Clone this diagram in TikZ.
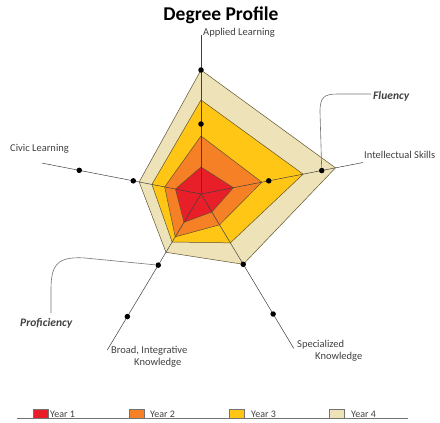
\documentclass[tikz,border=0pt]{standalone}
\usepackage{fontspec}
\setmainfont{Carlito}
\usetikzlibrary{calc}

\definecolor{yearone}{RGB}{232,30,40}
\definecolor{yeartwo}{RGB}{246,128,38}
\definecolor{yearthree}{RGB}{255,198,22}
\definecolor{yearfour}{RGB}{238,226,184}
\definecolor{edgecol}{RGB}{95,82,45}
\definecolor{txtcol}{RGB}{64,64,64}

\tikzset{
  area/.style={draw=edgecol, line width=0.5pt, line join=miter},
  axis/.style={draw=black!75, line width=0.5pt},
  dot/.style={circle, fill=black, inner sep=0pt, minimum size=5.5pt},
  lbl/.style={text=txtcol, font=\fontsize{10.5}{12.5}\selectfont, inner sep=0pt},
  callout/.style={draw=black!55, line width=0.6pt},
  keybox/.style={draw=black!55, line width=0.4pt, minimum width=15pt, minimum height=9pt, inner sep=0pt, anchor=south west}
}

\begin{document}
\begin{tikzpicture}[x=1pt, y=1pt]
  \useasboundingbox (0,0) rectangle (440,-423);

  \node[font=\fontsize{19.5}{22}\selectfont\bfseries] (title) at (221,-15) {Degree Profile};

  \begin{scope}[shift={(201,-194)}]
    \coordinate (o) at (0,0);

    % year 4 .. year 1
    \draw[area, fill=yearfour] (90:124pt) -- (11:137pt) -- (-59:82pt) -- (-121:68pt) -- (169:63pt) -- cycle;
    \draw[area, fill=yearthree] (90:94pt) -- (11:104pt) -- (-59:57pt) -- (-121:56pt) -- (169:50pt) -- cycle;
    \draw[area, fill=yeartwo] (90:58pt) -- (11:62pt) -- (-59:36pt) -- (-121:50pt) -- (169:37pt) -- cycle;
    \draw[area, fill=yearone] (90:27pt) -- (11:33pt) -- (-59:21pt) -- (-121:33pt) -- (169:26pt) -- cycle;

    % axis ends
    \coordinate (ea) at (90:159pt);
    \coordinate (ei) at (11:165pt);
    \coordinate (es) at (-59:180pt);
    \coordinate (eb) at (-121:182pt);
    \coordinate (ec) at (169:162pt);

    \draw[axis] (o) -- (ea);
    \draw[axis] (o) -- (ei);
    \draw[axis] (o) -- (es);
    \draw[axis] (o) -- (eb);
    \draw[axis] (o) -- (ec);

    \node[dot] (da1) at (90:70pt) {};
    \node[dot] (da2) at (90:124pt) {};
    \node[dot] (di1) at (11:69pt) {};
    \node[dot] (di2) at (11:123pt) {};
    \node[dot] (ds1) at (-59:82pt) {};
    \node[dot] (ds2) at (-59:140pt) {};
    \node[dot] (db1) at (-121:83pt) {};
    \node[dot] (db2) at (-121:143pt) {};
    \node[dot] (dc1) at (169:69pt) {};
    \node[dot] (dc2) at (169:124pt) {};
  \end{scope}

  % axis labels
  \node[lbl, anchor=west] (applied) at (203,-33) {Applied Learning};
  \node[lbl, anchor=west] (civic) at (10,-149) {Civic Learning};
  \node[lbl, anchor=west] (intel) at (364,-155) {Intellectual Skills};
  \node[lbl, anchor=north west, align=left] (broad) at (111,-346) {Broad, Integrative\\\hspace*{23pt}Knowledge};
  \node[lbl, anchor=north west, align=left] (special) at (297,-340) {Specialized\\\hspace*{18pt}Knowledge};

  % callouts
  \draw[callout] (di2) -- (320,-112) .. controls (320,-97) and (324,-94) .. (338,-94) -- (371,-94);
  \node[lbl, anchor=west, font=\fontsize{11.5}{13}\selectfont\bfseries\itshape] (fluency) at (373,-96) {Fluency};
  \draw[callout] (db1) -- (85,-258) .. controls (56,-256) and (51,-266) .. (51,-290) -- (51,-313);
  \node[lbl, anchor=west, font=\fontsize{11.5}{13}\selectfont\bfseries\itshape] (profic) at (20,-323) {Proficiency};

  % legend
  \draw[draw=black!55, line width=0.6pt] (17,-418.5) -- (408,-418.5);
  \node[keybox, fill=yearone] (k1) at (33,-418.5) {};
  \node[lbl, anchor=west, font=\fontsize{10}{12}\selectfont] (t1) at (50,-414) {Year 1};
  \node[keybox, fill=yeartwo] (k2) at (129,-418.5) {};
  \node[lbl, anchor=west, font=\fontsize{10}{12}\selectfont] (t2) at (150,-414) {Year 2};
  \node[keybox, fill=yearthree] (k3) at (229,-418.5) {};
  \node[lbl, anchor=west, font=\fontsize{10}{12}\selectfont] (t3) at (251,-414) {Year 3};
  \node[keybox, fill=yearfour] (k4) at (329,-418.5) {};
  \node[lbl, anchor=west, font=\fontsize{10}{12}\selectfont] (t4) at (351,-414) {Year 4};
\end{tikzpicture}
\end{document}
